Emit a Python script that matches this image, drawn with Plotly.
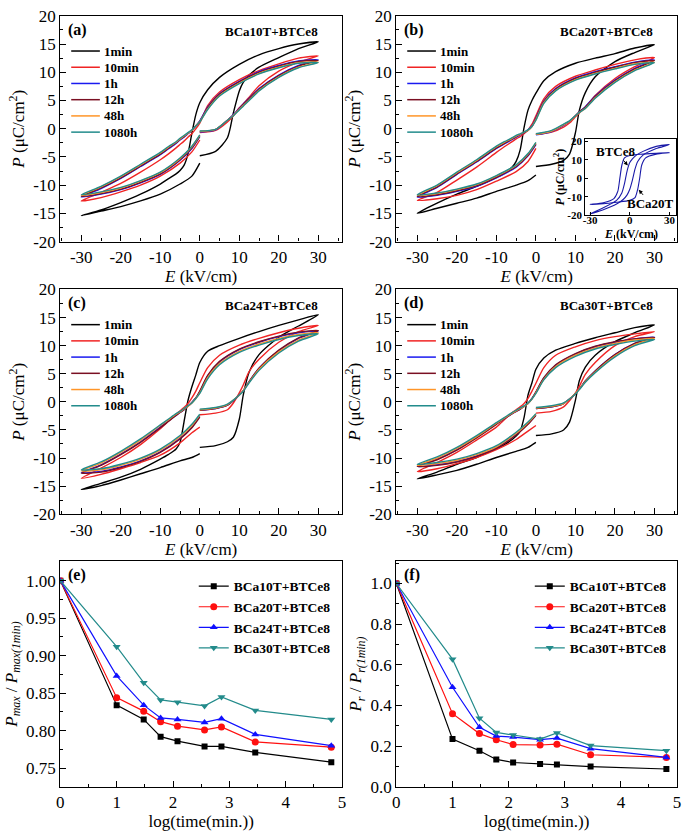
import plotly.graph_objects as go

SERIF = "Liberation Serif, Times New Roman, serif"

# ---------------- data: hysteresis loops (E in kV/cm, P in uC/cm2) ----------------
# path: 0 -> +30 (initial), +30 -> -30 (descending), -30 -> 0 (ascending)
E_LOOP = [0, 4, 7, 8.5, 10, 11, 12.5, 15, 20, 25, 30,
          25, 20, 15, 10, 5, 2, 0, -1, -2, -3, -4, -5, -6, -8, -10, -15, -20, -25, -30,
          -25, -20, -15, -10, -5, -2, 0]

LOOP_NAMES = ["1min", "10min", "1h", "12h", "48h", "1080h"]
LOOP_COLORS = ["#000000", "#F02424", "#1A1AF0", "#7A0F22", "#FF9528", "#238C8C"]

A_1MIN = [-4.8, -4.0, -1.6, 2.8, 6.7, 8.2, 9.5, 10.9, 12.6, 14.2, 15.4,
          15.0, 14.2, 13.1, 11.4, 9.1, 6.9, 4.6, 2.5, -0.8, -4.5, -6.5, -7.4, -8.0, -8.9, -9.8, -11.6, -13.1, -14.4, -15.4,
          -14.6, -13.8, -12.8, -11.6, -9.8, -8.4, -6.1]
A_10MIN = [-0.7, -0.3, 1.2, 2.3, 3.7, 4.4, 5.6, 7.6, 10.2, 11.8, 12.9,
           12.5, 11.5, 10.3, 8.7, 6.5, 4.1, 1.0, 0.0, -0.9, -1.5, -2.2, -2.8, -3.4, -4.5, -5.5, -7.7, -9.7, -11.3, -12.8,
           -12.2, -11.2, -10.0, -8.4, -6.1, -4.1, -2.0]
A_1H = [-0.6, -0.2, 1.5, 2.5, 3.6, 4.4, 5.4, 7.1, 9.5, 11.2, 12.2,
        12.0, 11.2, 10.1, 8.4, 6.2, 3.8, 1.4, 0.5, -0.3, -0.9, -1.5, -2.0, -2.6, -3.6, -4.6, -6.7, -8.8, -10.6, -12.1,
        -11.6, -10.8, -9.6, -8.1, -5.6, -3.5, -1.4]
A_12H = [-0.5, -0.1, 1.5, 2.4, 3.5, 4.3, 5.3, 7.0, 9.4, 11.1, 12.1,
         11.9, 11.1, 10.0, 8.3, 6.1, 3.7, 1.3, 0.5, -0.3, -0.8, -1.4, -1.9, -2.5, -3.5, -4.5, -6.6, -8.7, -10.5, -12.0,
         -11.5, -10.7, -9.5, -8.0, -5.5, -3.4, -1.3]
A_48H = [-0.5, -0.1, 1.5, 2.4, 3.4, 4.1, 5.1, 6.8, 9.2, 10.9, 11.8,
         11.7, 10.9, 9.8, 8.1, 5.9, 3.5, 1.2, 0.5, -0.3, -0.8, -1.3, -1.8, -2.4, -3.3, -4.3, -6.4, -8.5, -10.3, -11.8,
         -11.3, -10.5, -9.3, -7.8, -5.3, -3.2, -1.2]
A_1080H = [-0.4, -0.1, 1.5, 2.3, 3.3, 4.0, 5.0, 6.7, 9.1, 10.8, 11.7,
           11.6, 10.8, 9.7, 8.0, 5.8, 3.4, 1.2, 0.5, -0.2, -0.7, -1.2, -1.7, -2.3, -3.2, -4.2, -6.3, -8.4, -10.2, -11.7,
           -11.2, -10.4, -9.2, -7.7, -5.2, -3.1, -1.1]

B_1MIN = [-6.7, -6.3, -5.6, -4.5, -0.7, 3.3, 6.4, 9.2, 11.9, 13.5, 14.9,
          14.3, 13.3, 12.5, 11.6, 10.1, 8.5, 6.3, 5.0, 3.3, 0.2, -3.8, -5.8, -6.8, -7.9, -8.6, -10.2, -11.6, -13.2, -15.0,
          -14.1, -13.2, -12.3, -11.1, -10.0, -9.2, -8.2]
B_10MIN = [-1.0, -0.6, 0.3, 1.0, 2.1, 2.8, 3.8, 5.9, 8.9, 11.0, 12.6,
           12.2, 11.4, 10.4, 9.3, 7.5, 5.3, 2.3, 0.8, -0.2, -0.9, -1.4, -1.8, -2.3, -3.2, -4.2, -6.8, -9.1, -11.3, -12.7,
           -12.4, -11.8, -10.8, -9.3, -7.6, -5.8, -3.5]
B_1H = [-1.1, -0.5, 0.6, 1.3, 2.3, 3.0, 3.9, 5.8, 8.6, 10.7, 12.2,
        11.8, 11.0, 10.1, 9.0, 7.1, 4.9, 1.9, 0.5, -0.2, -0.7, -1.1, -1.5, -1.9, -2.7, -3.5, -5.9, -8.1, -10.4, -12.1,
        -11.8, -11.1, -10.2, -8.7, -6.8, -4.8, -2.8]
B_12H = [-1.0, -0.4, 0.7, 1.3, 2.3, 3.0, 3.8, 5.7, 8.5, 10.6, 12.1,
         11.7, 10.9, 10.0, 8.9, 7.0, 4.8, 1.8, 0.4, -0.3, -0.7, -1.0, -1.4, -1.8, -2.6, -3.4, -5.8, -8.0, -10.3, -12.0,
         -11.7, -11.0, -10.1, -8.6, -6.7, -4.7, -2.7]
B_48H = [-1.0, -0.4, 0.7, 1.3, 2.3, 2.9, 3.6, 5.5, 8.3, 10.4, 11.8,
         11.5, 10.7, 9.8, 8.7, 6.8, 4.6, 1.6, 0.4, -0.3, -0.6, -1.0, -1.3, -1.7, -2.4, -3.2, -5.6, -7.8, -10.1, -11.8,
         -11.5, -10.8, -9.9, -8.4, -6.5, -4.5, -2.5]
B_1080H = [-0.9, -0.3, 0.8, 1.4, 2.3, 2.9, 3.6, 5.4, 8.2, 10.3, 11.7,
           11.4, 10.6, 9.7, 8.6, 6.7, 4.5, 1.5, 0.4, -0.2, -0.6, -0.9, -1.2, -1.6, -2.3, -3.1, -5.5, -7.7, -10.0, -11.7,
           -11.4, -10.7, -9.8, -8.3, -6.4, -4.4, -2.4]

C_1MIN = [-8.1, -7.8, -7.1, -6.3, -3.1, 1.2, 5.3, 8.4, 11.5, 13.5, 15.5,
          14.6, 13.6, 12.5, 11.3, 10.0, 9.0, 7.0, 4.8, 2.7, 0.2, -3.6, -7.2, -8.4, -9.4, -10.2, -12.0, -13.4, -14.5, -15.6,
          -14.9, -13.9, -12.8, -11.7, -10.5, -9.9, -9.2]
C_10MIN = [-2.3, -2.0, -1.4, -0.2, 1.6, 3.0, 5.4, 7.6, 10.6, 12.5, 13.6,
           13.1, 12.3, 11.3, 10.1, 8.3, 6.1, 3.4, 1.9, 0.7, -0.3, -1.0, -1.6, -2.2, -3.5, -4.8, -7.6, -9.9, -11.8, -13.6,
           -12.9, -11.9, -10.8, -9.5, -7.3, -5.5, -4.5]
C_1H = [-1.5, -1.2, -0.6, 0.2, 1.2, 2.0, 3.6, 6.0, 9.1, 11.3, 12.6,
        12.3, 11.6, 10.6, 9.3, 7.1, 4.6, 1.8, 0.7, -0.1, -0.8, -1.4, -1.9, -2.4, -3.4, -4.5, -7.1, -9.3, -11.2, -12.6,
        -12.4, -11.6, -10.5, -8.9, -6.5, -4.5, -2.6]
C_12H = [-1.5, -1.2, -0.6, 0.2, 1.2, 2.0, 3.6, 6.0, 9.2, 11.4, 12.7,
         12.4, 11.7, 10.7, 9.4, 7.2, 4.7, 1.9, 0.7, -0.1, -0.8, -1.4, -1.9, -2.4, -3.5, -4.6, -7.2, -9.4, -11.3, -12.7,
         -12.5, -11.7, -10.6, -9.0, -6.6, -4.6, -2.7]
C_48H = [-1.4, -1.1, -0.5, 0.3, 1.2, 2.0, 3.5, 5.8, 8.9, 11.0, 12.3,
         12.0, 11.3, 10.3, 9.0, 6.8, 4.3, 1.6, 0.6, -0.2, -0.8, -1.3, -1.8, -2.2, -3.2, -4.2, -6.8, -9.0, -10.9, -12.3,
         -12.1, -11.3, -10.2, -8.6, -6.2, -4.2, -2.3]
C_1080H = [-1.3, -1.0, -0.4, 0.3, 1.2, 1.9, 3.4, 5.6, 8.7, 10.8, 12.1,
           11.8, 11.1, 10.1, 8.8, 6.6, 4.1, 1.5, 0.6, -0.2, -0.7, -1.2, -1.7, -2.1, -3.1, -4.1, -6.6, -8.8, -10.7, -12.1,
           -11.9, -11.1, -10.0, -8.4, -6.0, -4.0, -2.2]

D_1MIN = [-6.0, -5.7, -5.0, -3.6, 0.3, 3.8, 6.2, 8.3, 10.7, 12.3, 13.7,
          13.2, 12.3, 11.4, 10.4, 9.2, 7.8, 5.8, 3.4, 1.2, -2.8, -5.2, -6.1, -6.7, -7.6, -8.3, -9.9, -11.1, -12.5, -13.7,
          -13.0, -12.2, -11.1, -9.9, -8.8, -8.1, -7.2]
D_10MIN = [-2.0, -1.7, -0.9, 0.2, 1.6, 2.8, 4.9, 7.0, 10.0, 11.6, 12.5,
           12.1, 11.6, 10.9, 9.8, 8.3, 6.1, 3.3, 1.9, 0.6, -0.3, -0.9, -1.4, -1.9, -3.2, -4.5, -6.8, -9.0, -10.8, -12.4,
           -11.9, -11.0, -9.9, -8.5, -6.7, -5.2, -4.2]
D_1H = [-1.2, -0.9, -0.3, 0.5, 1.5, 2.3, 3.7, 5.5, 8.4, 10.4, 11.5,
        11.2, 10.6, 9.8, 8.5, 6.5, 4.2, 1.7, 0.6, -0.3, -0.8, -1.3, -1.7, -2.1, -3.0, -3.9, -6.3, -8.5, -10.2, -11.5,
        -11.2, -10.6, -9.6, -8.2, -5.8, -3.9, -2.4]
D_12H = [-1.2, -0.9, -0.3, 0.5, 1.5, 2.3, 3.7, 5.5, 8.4, 10.4, 11.5,
         11.2, 10.7, 9.9, 8.6, 6.6, 4.3, 1.8, 0.6, -0.3, -0.8, -1.3, -1.7, -2.1, -3.0, -4.0, -6.4, -8.6, -10.3, -11.5,
         -11.3, -10.7, -9.7, -8.3, -5.9, -4.0, -2.4]
D_48H = [-1.1, -0.8, -0.3, 0.5, 1.5, 2.3, 3.6, 5.3, 8.2, 10.2, 11.3,
         11.0, 10.4, 9.6, 8.3, 6.3, 4.0, 1.6, 0.5, -0.3, -0.8, -1.2, -1.6, -2.0, -2.9, -3.8, -6.2, -8.3, -10.0, -11.3,
         -11.0, -10.4, -9.4, -8.0, -5.6, -3.7, -2.2]
D_1080H = [-1.0, -0.7, -0.2, 0.5, 1.4, 2.2, 3.5, 5.2, 8.0, 10.0, 11.1,
           10.8, 10.2, 9.4, 8.1, 6.1, 3.9, 1.5, 0.5, -0.2, -0.7, -1.1, -1.5, -1.9, -2.8, -3.7, -6.0, -8.1, -9.8, -11.1,
           -10.8, -10.2, -9.2, -7.8, -5.4, -3.6, -2.1]

PANEL_TITLES = ["BCa10T+BTCe8", "BCa20T+BTCe8", "BCa24T+BTCe8", "BCa30T+BTCe8"]
PANEL_LETTERS = ["(a)", "(b)", "(c)", "(d)", "(e)", "(f)"]

E_TICKS = [-30, -20, -10, 0, 10, 20, 30]
E_TICKTEXT = ["-30", "-20", "-10", "0", "10", "20", "30"]
P_TICKS = [-20, -15, -10, -5, 0, 5, 10, 15, 20]
P_TICKTEXT = ["-20", "-15", "-10", "-5", "0", "5", "10", "15", "20"]

# inset of (b): single loops of the two end members
INSET_BTCE8_E = [-30, -20, -10, -5, -2, 0, 2, 4, 6, 10, 20, 30,
                 20, 10, 5, 2, 0, -2, -4, -6, -10, -20, -30]
INSET_BTCE8_P = [-19.2, -17.0, -14.0, -11.5, -9.0, -6.0, -1.0, 5.0, 9.0, 12.5, 16.0, 18.2,
                 17.2, 14.5, 12.5, 10.5, 8.5, 4.0, -3.0, -8.0, -12.0, -16.0, -19.2]
INSET_BCA20T_E = [-30, -20, -10, 0, 4, 6, 7.5, 9, 12, 20, 30,
                  20, 10, 0, -4, -6, -7.5, -9, -12, -20, -30]
INSET_BCA20T_P = [-14.2, -13.8, -13.0, -12.0, -10.5, -6.0, 0.0, 7.0, 11.0, 13.0, 13.8,
                  13.5, 13.0, 12.3, 11.0, 7.0, 0.0, -7.0, -11.0, -13.3, -14.2]

# ---------------- data: ageing (e), (f) ----------------
LOG_T = [0, 1, 1.48, 1.78, 2.08, 2.56, 2.86, 3.46, 4.81]
SAMPLES = ["BCa10T+BTCe8", "BCa20T+BTCe8", "BCa24T+BTCe8", "BCa30T+BTCe8"]
PMAX_10 = [1.0, 0.834, 0.815, 0.792, 0.786, 0.779, 0.779, 0.771, 0.758]
PMAX_20 = [1.0, 0.844, 0.826, 0.812, 0.806, 0.801, 0.805, 0.785, 0.778]
PMAX_24 = [1.0, 0.873, 0.834, 0.817, 0.815, 0.811, 0.816, 0.795, 0.780]
PMAX_30 = [1.0, 0.912, 0.864, 0.841, 0.838, 0.833, 0.845, 0.827, 0.815]
PR_10 = [1.0, 0.235, 0.178, 0.135, 0.120, 0.113, 0.110, 0.100, 0.088]
PR_20 = [1.0, 0.360, 0.262, 0.232, 0.208, 0.206, 0.210, 0.158, 0.145]
PR_24 = [1.0, 0.490, 0.293, 0.250, 0.245, 0.232, 0.240, 0.188, 0.145]
PR_30 = [1.0, 0.628, 0.338, 0.268, 0.255, 0.235, 0.265, 0.203, 0.178]
SAMPLE_COLORS = ["#000000", "#FF1010", "#1010FF", "#238B8B"]
SAMPLE_SYMBOLS = ["square", "circle", "triangle-up", "triangle-down"]
SAMPLE_SIZES = [6, 7, 7, 7]

LOOPS = [
    [A_1MIN, A_10MIN, A_1H, A_12H, A_48H, A_1080H],
    [B_1MIN, B_10MIN, B_1H, B_12H, B_48H, B_1080H],
    [C_1MIN, C_10MIN, C_1H, C_12H, C_48H, C_1080H],
    [D_1MIN, D_10MIN, D_1H, D_12H, D_48H, D_1080H],
]
for panel in LOOPS:
    for s in panel:
        assert len(s) == len(E_LOOP), len(s)

# ---------------- layout helpers (pixel -> paper) ----------------
W, H = 685, 835
def fx(p):
    return p / W
def fy(p):
    return 1 - p / H

# plot areas (left, top, right, bottom) in px
AREAS = [
    (57, 7, 342, 238), (397, 7, 681, 238),
    (57, 287, 342, 517), (397, 287, 681, 517),
    (57, 565, 342, 796), (397, 565, 681, 796),
]

fig = go.Figure()

for i, panel in enumerate(LOOPS):
    xa = "x" if i == 0 else f"x{i+1}"
    ya = "y" if i == 0 else f"y{i+1}"
    for name, color, pvals in zip(LOOP_NAMES, LOOP_COLORS, panel):
        fig.add_trace(go.Scatter(
            x=E_LOOP, y=pvals, mode="lines", name=name, showlegend=False,
            line=dict(color=color, width=1.4, shape="spline", smoothing=0.7),
            xaxis=xa, yaxis=ya))

for k, series in enumerate([[PMAX_10, PMAX_20, PMAX_24, PMAX_30], [PR_10, PR_20, PR_24, PR_30]]):
    idx = 5 + k
    for name, color, sym, sz, vals in zip(SAMPLES, SAMPLE_COLORS, SAMPLE_SYMBOLS, SAMPLE_SIZES, series):
        fig.add_trace(go.Scatter(
            x=LOG_T, y=vals, mode="lines+markers", name=name,
            line=dict(color=color, width=1.2),
            marker=dict(color=color, symbol=sym, size=sz),
            xaxis=f"x{idx}", yaxis=f"y{idx}", legend="legend" if k == 0 else "legend2"))

# inset traces
for ex, py in [(INSET_BTCE8_E, INSET_BTCE8_P), (INSET_BCA20T_E, INSET_BCA20T_P)]:
    fig.add_trace(go.Scatter(x=ex, y=py, mode="lines", showlegend=False,
                             line=dict(color="#1A1AA8", width=1.1, shape="spline", smoothing=0.6),
                             xaxis="x7", yaxis="y7"))

TICKFONT = dict(family=SERIF, size=17, color="black")
TITLEFONT = dict(family=SERIF, size=17, color="black")

def axis_style(**kw):
    d = dict(showline=True, linecolor="black", linewidth=1.2, mirror=True,
             ticks="inside", ticklen=6, tickwidth=1.2, tickcolor="black",
             showgrid=False, zeroline=False, tickfont=TICKFONT)
    d.update(kw)
    return d

layout = dict(width=W, height=H, margin=dict(l=0, r=0, t=0, b=0),
              paper_bgcolor="white", plot_bgcolor="white", showlegend=True)

for i, (l, t, r, b) in enumerate(AREAS):
    xk = "xaxis" if i == 0 else f"xaxis{i+1}"
    yk = "yaxis" if i == 0 else f"yaxis{i+1}"
    anchor_x = "y" if i == 0 else f"y{i+1}"
    anchor_y = "x" if i == 0 else f"x{i+1}"
    if i < 4:
        layout[xk] = axis_style(domain=[fx(l), fx(r)], anchor=anchor_x,
                                range=[-35.3, 36.0] if i % 2 == 0 else [-35.3, 35.7],
                                tickvals=E_TICKS, ticktext=E_TICKTEXT,
                                minor=dict(ticks="inside", ticklen=3, tickcolor="black", dtick=5, tick0=0),
                                title=dict(text="<i>E</i> (kV/cm)", font=TITLEFONT, standoff=0))
        layout[yk] = axis_style(domain=[fy(b), fy(t)], anchor=anchor_y, range=[-20, 20],
                                tickvals=P_TICKS, ticktext=P_TICKTEXT,
                                minor=dict(ticks="inside", ticklen=3, tickcolor="black", dtick=2.5, tick0=0),
                                title=dict(text="<i>P</i> (μC/cm<sup>2</sup>)", font=TITLEFONT, standoff=4))
    else:
        layout[xk] = axis_style(domain=[fx(l), fx(r)], anchor=anchor_x, range=[0, 5],
                                tickvals=[0, 1, 2, 3, 4, 5],
                                minor=dict(ticks="inside", ticklen=3, tickcolor="black", dtick=0.5, tick0=0),
                                title=dict(text="log(time(min.))", font=TITLEFONT, standoff=0))
        if i == 4:
            layout[yk] = axis_style(domain=[fy(b), fy(t)], anchor=anchor_y, range=[0.725, 1.026],
                                    tickvals=[0.75, 0.80, 0.85, 0.90, 0.95, 1.00],
                                    ticktext=["0.75", "0.80", "0.85", "0.90", "0.95", "1.00"],
                                    minor=dict(ticks="inside", ticklen=3, tickcolor="black", dtick=0.025, tick0=0),
                                    title=dict(text="<i>P</i><sub><i>max</i></sub> / <i>P</i><sub><i>max(1min)</i></sub>",
                                               font=TITLEFONT, standoff=4))
        else:
            layout[yk] = axis_style(domain=[fy(b), fy(t)], anchor=anchor_y, range=[0, 1.11],
                                    tickvals=[0.0, 0.2, 0.4, 0.6, 0.8, 1.0],
                                    ticktext=["0.0", "0.2", "0.4", "0.6", "0.8", "1.0"],
                                    minor=dict(ticks="inside", ticklen=3, tickcolor="black", dtick=0.1, tick0=0),
                                    title=dict(text="<i>P</i><sub><i>r</i></sub> / <i>P</i><sub><i>r(1min)</i></sub>",
                                               font=TITLEFONT, standoff=4))

# inset axes
INSET_FONT = dict(family=SERIF, size=11, color="black", weight="bold")
layout["xaxis7"] = dict(domain=[fx(588), fx(680)], anchor="y7", range=[-33.75, 35],
                        showline=True, linecolor="black", linewidth=1, mirror=True,
                        ticks="inside", ticklen=3, tickcolor="black", showgrid=False, zeroline=False,
                        tickvals=[-30, 0, 30], ticktext=["-30", "0", "30"], tickfont=INSET_FONT,
                        ticklabelstandoff=-5)
layout["yaxis7"] = dict(domain=[fy(211), fy(133)], anchor="x7", range=[-20, 21.2],
                        showline=True, linecolor="black", linewidth=1, mirror=True,
                        ticks="inside", ticklen=3, tickcolor="black", showgrid=False, zeroline=False,
                        tickvals=[-20, -10, 0, 10, 20], ticktext=["-20", "-10", "0", "10", "20"], tickfont=INSET_FONT,
                        title=dict(text="<i>P</i> (μC/cm<sup>2</sup>)", font=dict(family=SERIF, size=12, color="black", weight="bold"), standoff=0))

# legends of (e) and (f)
for key, (l, t, r, b) in [("legend", AREAS[4]), ("legend2", AREAS[5])]:
    layout[key] = dict(x=fx(l + 135), y=fy(t + 10), xanchor="left", yanchor="top",
                       bgcolor="rgba(0,0,0,0)", borderwidth=0,
                       font=dict(family=SERIF, size=13.5, color="black", weight="bold"),
                       tracegroupgap=0, itemwidth=30)

annotations = []
shapes = []
LEG_FONT = dict(family=SERIF, size=13, color="black", weight="bold")
for i, (l, t, r, b) in enumerate(AREAS):
    annotations.append(dict(text=PANEL_LETTERS[i], xref="paper", yref="paper", x=fx(l + 6), y=fy(t + 14),
                            xanchor="left", yanchor="middle", showarrow=False,
                            font=dict(family=SERIF, size=16, color="black", weight="bold")))
    if i < 4:
        annotations.append(dict(text=PANEL_TITLES[i], xref="paper", yref="paper", x=fx(r - 22), y=fy(t + 16),
                                xanchor="right", yanchor="middle", showarrow=False,
                                font=dict(family=SERIF, size=13, color="black", weight="bold")))
        # legend key for the loops (a)-(d)
        for k, (name, color) in enumerate(zip(LOOP_NAMES, LOOP_COLORS)):
            yy = t + 36 + k * 16.6
            shapes.append(dict(type="line", xref="paper", yref="paper",
                               x0=fx(l + 11), x1=fx(l + 40), y0=fy(yy), y1=fy(yy),
                               line=dict(color=color, width=1.5)))
            annotations.append(dict(text=name, xref="paper", yref="paper", x=fx(l + 42), y=fy(yy),
                                    xanchor="left", yanchor="middle", showarrow=False, font=LEG_FONT))

# inset x-axis title and labels
annotations.append(dict(text="<i>E</i> (kV/cm)", xref="paper", yref="paper", x=fx(634), y=fy(230),
                        xanchor="center", yanchor="middle", showarrow=False,
                        font=dict(family=SERIF, size=12, color="black", weight="bold")))
annotations.append(dict(text="BTCe8", xref="x7", yref="y7", x=-1.5, y=6.9, ax=-12, ay=-14,
                        showarrow=True, arrowhead=2, arrowsize=0.8, arrowwidth=1, arrowcolor="black",
                        font=dict(family=SERIF, size=13, color="black", weight="bold")))
annotations.append(dict(text="BCa20T", xref="x7", yref="y7", x=6.8, y=-6.3, ax=12, ay=14,
                        showarrow=True, arrowhead=2, arrowsize=0.8, arrowwidth=1, arrowcolor="black",
                        font=dict(family=SERIF, size=13, color="black", weight="bold")))
layout["annotations"] = annotations
layout["shapes"] = shapes

fig.update_layout(**layout)
fig.write_html("out.html", config={"displayModeBar": False},
               post_script="document.body.style.margin='0px';document.body.style.padding='0px';")
